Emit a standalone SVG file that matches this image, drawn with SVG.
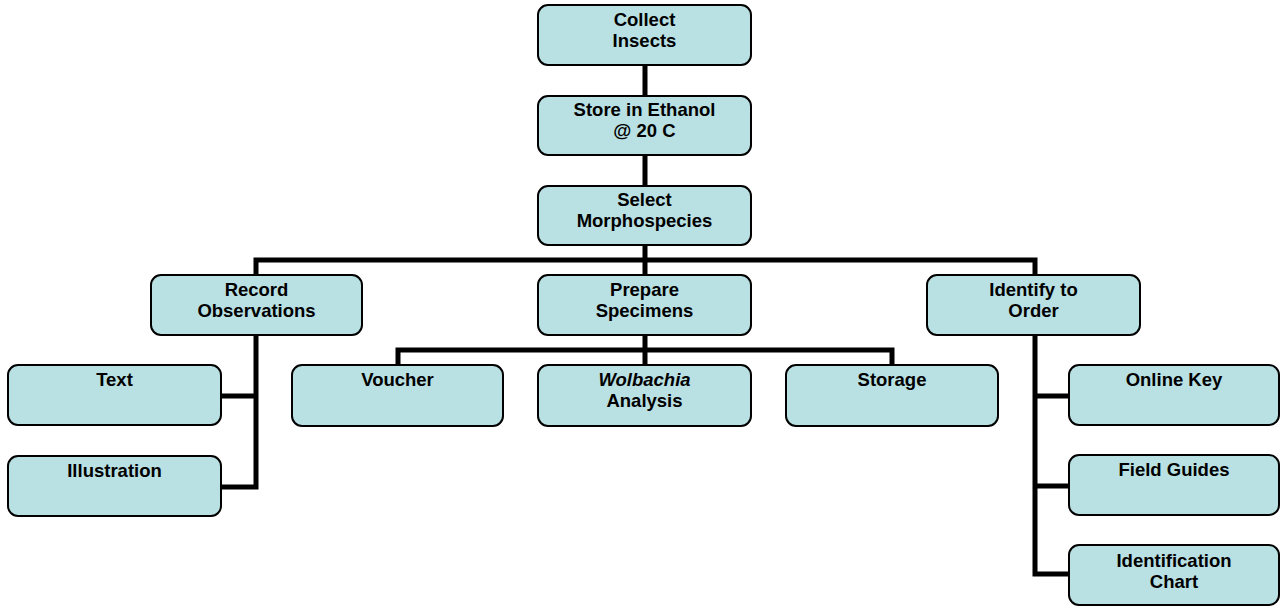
<svg xmlns="http://www.w3.org/2000/svg" width="1281" height="609" viewBox="0 0 1281 609">
<style>
.box{fill:#B9E0E3;stroke:#000;stroke-width:2}
.lbl{font-family:"Liberation Sans",Arial,sans-serif;font-weight:bold;font-size:18.5px;fill:#000;text-anchor:middle}
.conn{fill:none;stroke:#000;stroke-width:5;stroke-linejoin:miter;stroke-linecap:butt}
</style>
<rect width="1281" height="609" fill="#fff"/>
<g id="connectors">
<path class="conn" d="M645,65V96M645,155V186M645,245V275"/>
<path class="conn" d="M256,275V260H1035V275"/>
<path class="conn" d="M645,335V365M398,365V350H892V365"/>
<path class="conn" d="M256,335V487H221M256,396H221"/>
<path class="conn" d="M1035,335V574H1069M1035,396H1069M1035,486H1069"/>
</g>
<g id="collect"><rect class="box" x="538" y="5" width="213" height="60" rx="10"/><text class="lbl" x="644.5" y="26">Collect</text><text class="lbl" x="644.5" y="47">Insects</text></g>
<g id="store"><rect class="box" x="538" y="96" width="213" height="59" rx="10"/><text class="lbl" x="644.5" y="116">Store in Ethanol</text><text class="lbl" x="644.5" y="137">@ 20 C</text></g>
<g id="select"><rect class="box" x="538" y="186" width="213" height="59" rx="10"/><text class="lbl" x="644.5" y="206">Select</text><text class="lbl" x="644.5" y="227">Morphospecies</text></g>
<g id="record"><rect class="box" x="151" y="275" width="211" height="60" rx="10"/><text class="lbl" x="256.5" y="296">Record</text><text class="lbl" x="256.5" y="317">Observations</text></g>
<g id="prepare"><rect class="box" x="538" y="275" width="213" height="60" rx="10"/><text class="lbl" x="644.5" y="296">Prepare</text><text class="lbl" x="644.5" y="317">Specimens</text></g>
<g id="identify"><rect class="box" x="927" y="275" width="213" height="60" rx="10"/><text class="lbl" x="1033.5" y="296">Identify to</text><text class="lbl" x="1033.5" y="317">Order</text></g>
<g id="text"><rect class="box" x="8" y="365" width="213" height="60" rx="10"/><text class="lbl" x="114.5" y="386">Text</text></g>
<g id="illustration"><rect class="box" x="8" y="456" width="213" height="60" rx="10"/><text class="lbl" x="114.5" y="477">Illustration</text></g>
<g id="voucher"><rect class="box" x="292" y="365" width="211" height="61" rx="10"/><text class="lbl" x="397.5" y="386">Voucher</text></g>
<g id="wolbachia"><rect class="box" x="538" y="365" width="213" height="61" rx="10"/><text class="lbl" x="644.5" y="386"><tspan font-style="italic">Wolbachia</tspan></text><text class="lbl" x="644.5" y="407">Analysis</text></g>
<g id="storage"><rect class="box" x="786" y="365" width="212" height="61" rx="10"/><text class="lbl" x="892" y="386">Storage</text></g>
<g id="onlinekey"><rect class="box" x="1069" y="365" width="210" height="60" rx="10"/><text class="lbl" x="1174" y="386">Online Key</text></g>
<g id="fieldguides"><rect class="box" x="1069" y="455" width="210" height="60" rx="10"/><text class="lbl" x="1174" y="476">Field Guides</text></g>
<g id="idchart"><rect class="box" x="1069" y="545" width="210" height="60" rx="10"/><text class="lbl" x="1174" y="567">Identification</text><text class="lbl" x="1174" y="588">Chart</text></g>
</svg>
